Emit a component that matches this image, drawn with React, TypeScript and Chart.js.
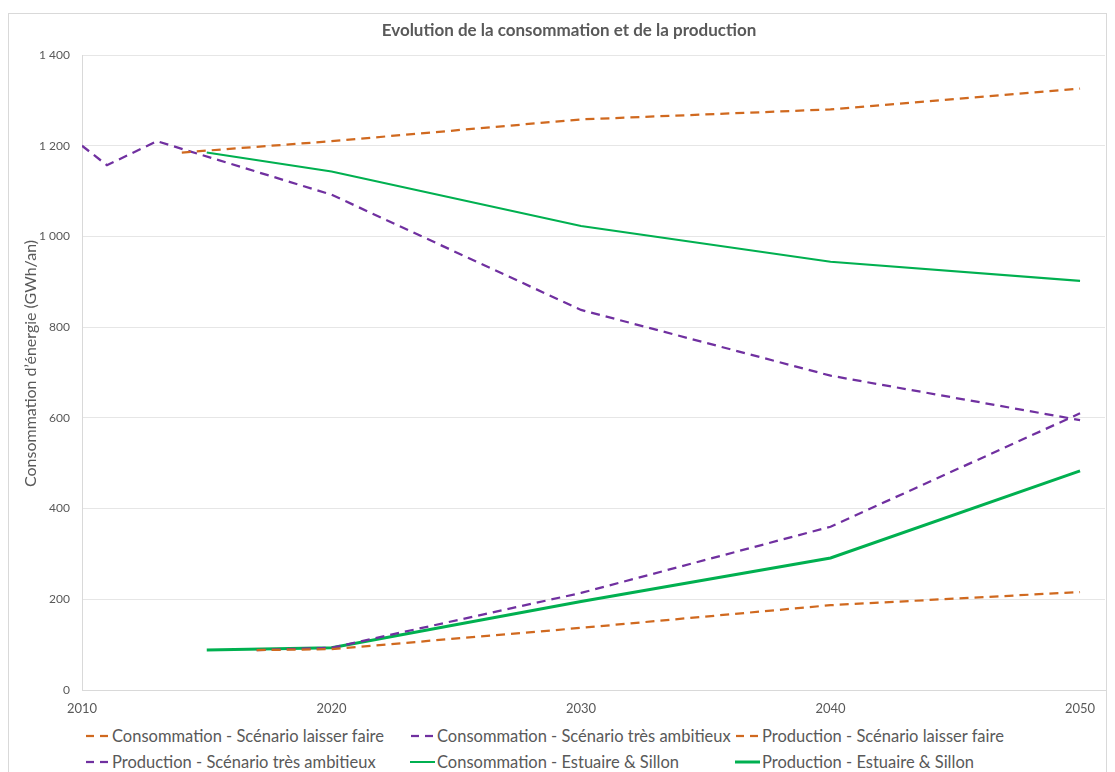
import React, { useEffect, useRef } from "react";
import { Chart, registerables } from "chart.js";

Chart.register(...registerables);

// ---- Data ----
const titleText = "Evolution de la consommation et de la production";
const yAxisTitle = "Consommation d’énergie (GWh/an)";

const consLaisserYears = [2014, 2020, 2030, 2040, 2050];
const consLaisserValues = [1185, 1210, 1258, 1280, 1326];

const consAmbYears = [2010, 2011, 2013, 2020, 2030, 2040, 2050];
const consAmbValues = [1200, 1157, 1210, 1092, 838, 693, 595];

const prodLaisserYears = [2017, 2020, 2030, 2040, 2050];
const prodLaisserValues = [88, 90, 137, 187, 216];

const prodAmbYears = [2017, 2020, 2030, 2040, 2050];
const prodAmbValues = [88, 93, 214, 360, 610];

const consEstYears = [2015, 2020, 2030, 2040, 2050];
const consEstValues = [1185, 1143, 1023, 944, 902];

const prodEstYears = [2015, 2020, 2030, 2040, 2050];
const prodEstValues = [88, 93, 195, 291, 483];

const xTicks = [2010, 2020, 2030, 2040, 2050];
const yTicks = [0, 200, 400, 600, 800, 1000, 1200, 1400];

const seriesLabels = [
  "Consommation - Scénario laisser faire",
  "Consommation - Scénario très ambitieux",
  "Production - Scénario laisser faire",
  "Production - Scénario très ambitieux",
  "Consommation - Estuaire & Sillon",
  "Production - Estuaire & Sillon",
];

const ORANGE = "#D0691F";
const PURPLE = "#7030A0";
const GREEN = "#00B050";
const TEXT = "#595959";
const FONT = "Lato, 'Open Sans', sans-serif";

const toPoints = (xs: number[], ys: number[]) => xs.map((x, i) => ({ x, y: ys[i] }));

const fmt = (v: number) =>
  v >= 1000 ? `${Math.floor(v / 1000)} ${String(v % 1000).padStart(3, "0")}` : String(v);

type LegendItem = { label: string; color: string; dashed: boolean; width: number };

const legendItems: LegendItem[] = [
  { label: seriesLabels[0], color: ORANGE, dashed: true, width: 2.25 },
  { label: seriesLabels[1], color: PURPLE, dashed: true, width: 2.25 },
  { label: seriesLabels[2], color: ORANGE, dashed: true, width: 2.25 },
  { label: seriesLabels[3], color: PURPLE, dashed: true, width: 2.25 },
  { label: seriesLabels[4], color: GREEN, dashed: false, width: 2 },
  { label: seriesLabels[5], color: GREEN, dashed: false, width: 3 },
];

// Draws the chart title and the rotated y-axis title at the reference positions
const titlesPlugin = {
  id: "titlesPlugin",
  afterDraw(chart: any) {
    const ctx = chart.ctx;
    const area = chart.chartArea;
    ctx.save();
    ctx.font = `bold 17px ${FONT}`;
    ctx.fillStyle = TEXT;
    ctx.textAlign = "center";
    ctx.textBaseline = "middle";
    ctx.fillText(titleText, 561, 18);
    ctx.restore();

    ctx.save();
    ctx.translate(23, (area.top + area.bottom) / 2 - 9);
    ctx.rotate(-Math.PI / 2);
    ctx.font = `16px ${FONT}`;
    ctx.fillStyle = TEXT;
    ctx.textAlign = "center";
    ctx.textBaseline = "middle";
    ctx.fillText(yAxisTitle, 0, 0);
    ctx.restore();
  },
};

export default function App() {
  const canvasRef = useRef<HTMLCanvasElement | null>(null);

  useEffect(() => {
    if (!canvasRef.current) return;
    const dash = [9, 6];
    const chart = new Chart(canvasRef.current, {
      type: "line",
      data: {
        datasets: [
          {
            label: seriesLabels[0],
            data: toPoints(consLaisserYears, consLaisserValues),
            borderColor: ORANGE,
            borderWidth: 2.25,
            borderDash: dash,
            pointRadius: 0,
          },
          {
            label: seriesLabels[1],
            data: toPoints(consAmbYears, consAmbValues),
            borderColor: PURPLE,
            borderWidth: 2.25,
            borderDash: dash,
            pointRadius: 0,
          },
          {
            label: seriesLabels[2],
            data: toPoints(prodLaisserYears, prodLaisserValues),
            borderColor: ORANGE,
            borderWidth: 2.25,
            borderDash: dash,
            pointRadius: 0,
          },
          {
            label: seriesLabels[3],
            data: toPoints(prodAmbYears, prodAmbValues),
            borderColor: PURPLE,
            borderWidth: 2.25,
            borderDash: dash,
            pointRadius: 0,
          },
          {
            label: seriesLabels[4],
            data: toPoints(consEstYears, consEstValues),
            borderColor: GREEN,
            borderWidth: 2.1,
            pointRadius: 0,
          },
          {
            label: seriesLabels[5],
            data: toPoints(prodEstYears, prodEstValues),
            borderColor: GREEN,
            borderWidth: 3,
            pointRadius: 0,
          },
        ],
      },
      plugins: [titlesPlugin],
      options: {
        animation: false,
        responsive: false,
        maintainAspectRatio: false,
        layout: { padding: { left: 0, right: 2, top: 42, bottom: 0 } },
        plugins: {
          legend: { display: false },
          tooltip: { enabled: false },
          title: { display: false },
        },
        scales: {
          x: {
            type: "linear",
            min: 2010,
            max: 2051,
            afterBuildTicks: (scale: any) => {
              scale.ticks = xTicks.map((v) => ({ value: v }));
            },
            afterFit: (scale: any) => {
              scale.height = 33;
            },
            grid: { display: false, drawTicks: false },
            border: { display: true, color: "#D9D9D9", width: 1 },
            ticks: {
              color: TEXT,
              padding: 11,
              maxRotation: 0,
              autoSkip: false,
              font: { family: FONT, size: 13 },
              callback: (v: any) => String(v),
            },
          },
          y: {
            type: "linear",
            min: 0,
            max: 1400,
            afterBuildTicks: (scale: any) => {
              scale.ticks = yTicks.map((v) => ({ value: v }));
            },
            afterFit: (scale: any) => {
              scale.width = 74;
            },
            grid: { color: "#E6E6E6", lineWidth: 1, drawTicks: false },
            border: { display: true, color: "#D9D9D9", width: 1 },
            ticks: {
              color: TEXT,
              padding: 12,
              autoSkip: false,
              font: { family: FONT, size: 12 },
              callback: (v: any) => fmt(Number(v)),
            },
          },
        },
      },
    });
    return () => chart.destroy();
  }, []);

  const colLeft = [77, 402, 727];
  const rowTop = [728, 754];

  return (
    <div style={{ position: "relative", width: 1099, height: 764, overflow: "hidden" }}>
      <div
        style={{
          position: "absolute",
          left: 0,
          top: 5,
          width: 1099,
          height: 800,
          boxSizing: "border-box",
          border: "1px solid #D9D9D9",
        }}
      />
      <canvas
        ref={canvasRef}
        width={1099}
        height={710}
        style={{ position: "absolute", left: 0, top: 5, width: 1099, height: 710 }}
      />
      {legendItems.map((it, i) => {
        const row = i < 3 ? 0 : 1;
        const col = i % 3;
        return (
          <div
            key={i}
            style={{
              position: "absolute",
              left: colLeft[col],
              top: rowTop[row] - 10,
              height: 20,
              display: "flex",
              alignItems: "center",
              whiteSpace: "nowrap",
              fontFamily: FONT,
              fontSize: 16.5,
              color: TEXT,
            }}
          >
            <svg width={27} height={10} style={{ flex: "none" }}>
              {it.dashed ? (
                <>
                  <line x1={1} y1={5} x2={9} y2={5} stroke={it.color} strokeWidth={it.width} />
                  <line x1={15} y1={5} x2={23} y2={5} stroke={it.color} strokeWidth={it.width} />
                </>
              ) : (
                <line x1={0} y1={5} x2={25} y2={5} stroke={it.color} strokeWidth={it.width} />
              )}
            </svg>
            <span>{it.label}</span>
          </div>
        );
      })}
    </div>
  );
}
